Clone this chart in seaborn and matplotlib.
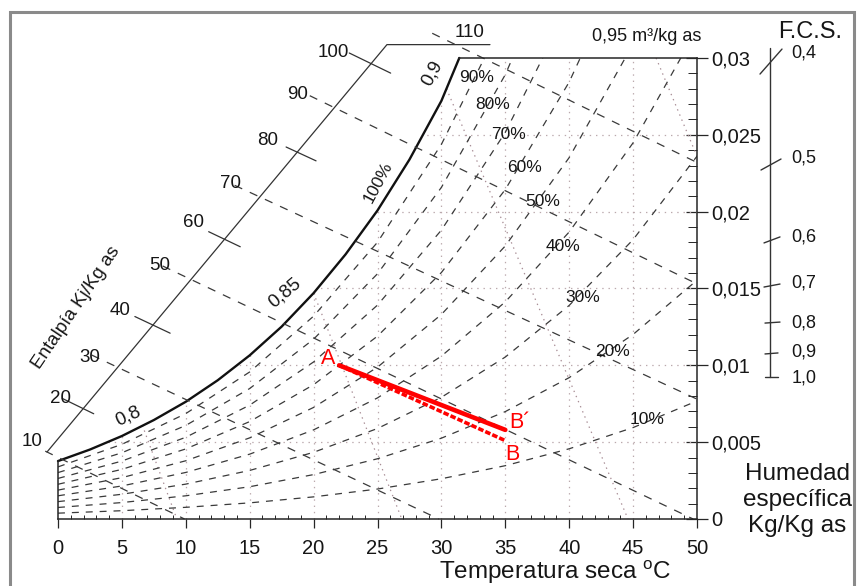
import matplotlib
matplotlib.use("Agg")
import matplotlib.pyplot as plt
from matplotlib.patches import Polygon, Rectangle
import numpy as np
import pandas as pd
import seaborn as sns

# dry bulb temperatures (ºC) of the humidity table
temps = [0, 5, 10, 15, 20, 25, 30, 35, 40, 45, 50]

# saturation curve (100 %), read every 2.5 ºC up to the top of the chart
sat_T = [0, 2.5, 5, 7.5, 10, 12.5, 15, 17.5, 20, 22.5, 25, 27.5, 30, 31.4]
sat_w = [0.00377, 0.00452, 0.00540, 0.00644, 0.00763, 0.00903, 0.01065,
         0.01252, 0.01470, 0.01722, 0.02008, 0.02339, 0.02721, 0.03000]

# relative humidity curves: humidity ratio (kg/kg as) at each of temps
rh_levels = [10, 20, 30, 40, 50, 60, 70, 80, 90]
rh_w = [
    [0.00038, 0.00054, 0.00076, 0.00105, 0.00144, 0.00195, 0.00262, 0.00347, 0.00457, 0.00595, 0.00768],
    [0.00075, 0.00107, 0.00151, 0.00210, 0.00289, 0.00392, 0.00526, 0.00699, 0.00920, 0.01201, 0.01554],
    [0.00113, 0.00161, 0.00227, 0.00316, 0.00434, 0.00589, 0.00792, 0.01054, 0.01390, 0.01818, 0.02361],
    [0.00151, 0.00215, 0.00303, 0.00422, 0.00580, 0.00788, 0.01060, 0.01413, 0.01868, 0.02448, 0.03188],
    [0.00188, 0.00269, 0.00379, 0.00528, 0.00726, 0.00988, 0.01331, 0.01777, 0.02352, 0.03091],
    [0.00226, 0.00323, 0.00456, 0.00634, 0.00874, 0.01190, 0.01604, 0.02144, 0.02844, 0.03746],
    [0.00264, 0.00377, 0.00532, 0.00741, 0.01022, 0.01392, 0.01880, 0.02516, 0.03344],
    [0.00302, 0.00431, 0.00609, 0.00849, 0.01170, 0.01596, 0.02158, 0.02892, 0.03851],
    [0.00339, 0.00486, 0.00686, 0.00957, 0.01320, 0.01801, 0.02438, 0.03273],
]
rh_text = ["10%", "20%", "30%", "40%", "50%", "60%", "70%", "80%", "90%"]

# enthalpy scale (kJ/kg as): where each value sits on the oblique scale
enth_values = [10, 20, 30, 40, 50, 60, 70, 80, 90, 100, 110]
enth_scale_T = [-0.86, 1.88, 4.62, 7.43, 10.17, 12.99, 15.81, 18.70, 21.67, 24.41, 30.83]
enth_scale_w = [0.00436, 0.00722, 0.00989, 0.01262, 0.01568, 0.01822, 0.02095,
                0.02388, 0.02675, 0.02967, 0.03098]
# the oblique scale line itself
enth_axis_T = [-0.86, 25.74, 33.8]
enth_axis_w = [0.00436, 0.03087, 0.03087]
# odd enthalpy lines cross the chart down to these points
enth_lines = [10, 30, 50, 70, 90, 110]
enth_end_T = [9.9, 29.8, 49.7, 50.0, 50.0, 50.0]
enth_end_w = [0.0, 0.0, 0.0, 0.0078, 0.0153, 0.0232]

# specific volume lines (m3/kg as)
vol_text = ["0,8", "0,85", "0,9", "0,95"]
vol_top_T = [6.6, 20.0, 30.4, 46.8]
vol_top_w = [0.0061, 0.0147, 0.0280, 0.0300]
vol_bot_T = [9.3, 26.9, 44.6, 50.0]
vol_bot_w = [0.0, 0.0, 0.0, 0.0236]

# dotted grid
grid_T = [5, 10, 15, 20, 25, 30, 35, 40, 45]
grid_w = [0.005, 0.01, 0.015, 0.02, 0.025]

# axes ticks
t_ticks = list(range(0, 51, 5))
w_ticks = [0, 0.005, 0.01, 0.015, 0.02, 0.025, 0.03]
w_labels = ["0", "0,005", "0,01", "0,015", "0,02", "0,025", "0,03"]

# sensible heat factor scale (F.C.S.)
fcs_labels = ["0,4", "0,5", "0,6", "0,7", "0,8", "0,9", "1,0"]
fcs_w = [0.02967, 0.02310, 0.01816, 0.01516, 0.01275, 0.01074, 0.00924]

# process A -> B´ (solid) and A -> B (dashed)
proc_T = [22.0, 35.0]
proc_w_b1 = [0.0100, 0.0058]
proc_w_b = [0.0100, 0.0051]

# ---------------------------------------------------------------- layout
W, H = 858, 586
X0, XS = 58, 12.78      # px of 0 ºC, px per ºC
Y0, YS = 519, 15367     # px of w=0, px per kg/kg

sns.set_theme(style="white")
plt.rcParams["font.family"] = ["Liberation Sans", "DejaVu Sans"]
plt.rcParams["mathtext.fontset"] = "custom"
plt.rcParams["mathtext.rm"] = "Liberation Sans"
plt.rcParams["lines.scale_dashes"] = False

fig = plt.figure(figsize=(W / 100, H / 100), dpi=100)
ax = fig.add_axes([0, 0, 1, 1])
ax.set_facecolor("white")
ax.set_xlim(-X0 / XS, (W - X0) / XS)
ax.set_ylim((Y0 - H) / YS, Y0 / YS)
ax.grid(False)

to_px = ax.transData.transform
to_data = ax.transData.inverted().transform


def pix(x, y):
    # screen pixel (y down) -> data
    return to_data((x, H - y))


ink = "#262626"
txt = "#161616"

# frame of the chart
for side in ["left", "right", "top", "bottom"]:
    ax.spines[side].set_visible(True)
    ax.spines[side].set_color(ink)
    ax.spines[side].set_linewidth(1.1)
ax.spines["bottom"].set_position(("data", 0))
ax.spines["bottom"].set_bounds(0, 50)
ax.spines["right"].set_position(("data", 50))
ax.spines["right"].set_bounds(0, 0.03)
ax.spines["top"].set_position(("data", 0.03))
ax.spines["top"].set_bounds(sat_T[-1], 50)
ax.spines["left"].set_position(("data", 0))
ax.spines["left"].set_bounds(0, sat_w[0])

ax.set_xticks(t_ticks)
ax.set_xticklabels([str(t) for t in t_ticks])
ax.set_xticks([t for t in range(0, 51) if t % 5], minor=True)
ax.yaxis.set_ticks_position("right")
ax.set_yticks(w_ticks)
ax.set_yticklabels(w_labels)
ax.set_yticks([i / 1000 for i in range(31) if i % 5], minor=True)
ax.tick_params(axis="x", which="major", direction="out", length=6.5, width=0.9,
               color=ink, labelsize=14.5, labelcolor=txt, pad=8, bottom=True, top=False)
ax.tick_params(axis="x", which="minor", direction="in", length=3, width=0.7,
               color=ink, bottom=True, top=False)
ax.tick_params(axis="y", which="major", direction="inout", length=16, width=0.9,
               color=ink, labelsize=14.5, labelcolor=txt, pad=2, right=True, left=False,
               labelright=True, labelleft=False)
ax.tick_params(axis="y", which="minor", direction="in", length=6.5, width=0.7,
               color=ink, right=True, left=False)

# region under the saturation curve
chart_clip = Polygon(list(zip(sat_T + [50, 50, 0], sat_w + [0.03, 0, 0])),
                     closed=True, transform=ax.transData)

# dotted dry bulb / humidity grid
vl = ax.vlines(grid_T, 0, 0.03, colors="#bba9ad", linewidth=0.9, linestyles=[(0, (1, 3.5))])
vl.set_clip_path(chart_clip)
hl = ax.hlines(grid_w, 0, 50, colors="#bba9ad", linewidth=0.9, linestyles=[(0, (1, 3.5))])
hl.set_clip_path(chart_clip)

# specific volume lines
for t0, w0, t1, w1 in zip(vol_top_T, vol_top_w, vol_bot_T, vol_bot_w):
    (ln,) = ax.plot([t0, t1], [w0, w1], color="#a88d95", lw=0.9, ls=(0, (1, 3)))
    ln.set_clip_path(chart_clip)

# relative humidity curves
rows = []
for rh, ws in zip(rh_levels, rh_w):
    for t, w in zip(temps, ws):
        rows.append({"T": t, "w": w, "rh": rh})
rh_df = pd.DataFrame(rows)
n0 = len(ax.lines)
sns.lineplot(data=rh_df, x="T", y="w", units="rh", estimator=None, sort=False,
             color="#3a3a3a", linewidth=0.9, linestyle=(0, (5, 5)), legend=False, ax=ax)
for ln in ax.lines[n0:]:
    ln.set_clip_path(chart_clip)

# saturation curve
sns.lineplot(x=sat_T, y=sat_w, sort=False, estimator=None, color="#111111",
             linewidth=1.7, ax=ax)

# enthalpy scale and lines
ax.plot(enth_axis_T, enth_axis_w, color="#333333", lw=0.9)
enth_back = [2, 22, 28, 20, 28, 17, 28, 12, 28, 23, 22]
enth_fwd = [0, 13, 0, 19, 0, 18, 0, 21, 0, 23, 0]
enth_lab = [(-15, -10), (-22, -10), (-27, -10), (-33, -15), (-28, -13), (-31, -17),
            (-30, -14), (-29, -12), (-37, -13), (-37, -11), (18, -10)]
dirs = {}
for h, t_end, w_end in zip(enth_lines, enth_end_T, enth_end_w):
    i = enth_values.index(h)
    p0 = to_px((enth_scale_T[i], enth_scale_w[i]))
    p1 = to_px((t_end, w_end))
    d = (p1 - p0) / np.hypot(*(p1 - p0))
    dirs[h] = d
    start = to_data(p0 - enth_back[i] * d)
    ax.plot([start[0], t_end], [start[1], w_end], color="#3a3a3a", lw=0.9, ls=(0, (6, 6)))
for i, h in enumerate(enth_values):
    p0 = to_px((enth_scale_T[i], enth_scale_w[i]))
    if h not in enth_lines:
        d = dirs[h - 10]
        seg = to_data(np.array([p0 - enth_back[i] * d, p0 + enth_fwd[i] * d]))
        ax.plot(seg[:, 0], seg[:, 1], color="#333333", lw=0.9)
    dx, dy = enth_lab[i]
    ax.annotate(str(h), (enth_scale_T[i], enth_scale_w[i]), xytext=(dx, -dy),
                textcoords="offset pixels", ha="center", va="center",
                fontsize=13.5, color=txt)

# labels of the humidity curves
rh_pos = [(647, 420), (612, 352), (583, 298), (563, 247), (543, 202),
          (525, 168), (508, 135), (493, 105), (477, 78)]
for s, (x, y) in zip(rh_text, rh_pos):
    ax.text(*pix(x, y), s, ha="center", va="center", fontsize=12.5, color=txt)
ax.text(*pix(378, 182), "100%", ha="center", va="center", fontsize=12.5,
        rotation=62, color=txt)

# labels of the volume lines
vol_pos = [(128, 416, 25), (285, 293, 40), (432, 73, 62)]
for s, (x, y, r) in zip(vol_text, vol_pos):
    ax.text(*pix(x, y), s, ha="center", va="center", fontsize=13.5, rotation=r, color=txt)
ax.text(*pix(647, 37), vol_text[-1] + " m³/kg as", ha="center", va="center",
        fontsize=13, color=txt)

# axis titles
ax.text(*pix(76, 308), "Entalpía Kj/Kg as", ha="center", va="center",
        fontsize=13.5, rotation=56, color=txt)
ax.text(*pix(797, 500), "Humedad\nespecífica\nKg/Kg as", ha="center", va="center",
        fontsize=17.5, linespacing=1.22, color=txt)
ax.text(*pix(555, 572), r"Temperatura seca $^{\mathrm{o}}$C", ha="center", va="center",
        fontsize=17.5, color=txt)

# F.C.S. scale
fcs_x = pix(770, 0)[0]
ax.plot([fcs_x, fcs_x], [pix(0, 48)[1], fcs_w[-1]], color="#333333", lw=1.0)
fcs_l = [(-10, 11), (-9, 6), (-6, 3), (-6, 1), (-5, 0), (-5, 0), (-5, 0)]
fcs_r = [(12, -14), (11, -5), (10, -3), (10, -2), (10, -1), (8, -1), (8, 0)]
fcs_dy = [-10, -6, -3, -3, 0, -2, 1]
for s, w, (lx, ly), (rx, ry), dy in zip(fcs_labels, fcs_w, fcs_l, fcs_r, fcs_dy):
    p = to_px((fcs_x, w))
    seg = to_data(np.array([p + (lx, -ly), p + (rx, -ry)]))
    ax.plot(seg[:, 0], seg[:, 1], color="#333333", lw=1.0)
    ax.annotate(s, (fcs_x, w), xytext=(34, -dy), textcoords="offset pixels",
                ha="center", va="center", fontsize=13, color=txt)
ax.text(*pix(810, 32), "F.C.S.", ha="center", va="center", fontsize=17, color=txt)

# process lines
sns.lineplot(x=proc_T, y=proc_w_b1, color="#ff0000", linewidth=3.3, ax=ax)
sns.lineplot(x=proc_T, y=proc_w_b, color="#ff0000", linewidth=2.6,
             linestyle=(0, (4, 1.5)), ax=ax)
ax.text(*pix(328, 358), "A", ha="center", va="center", fontsize=15.5, color="#ff0000")
ax.text(*pix(520, 422), "B´", ha="center", va="center", fontsize=15.5, color="#ff0000")
ax.text(*pix(512, 455), "B", ha="center", va="center", fontsize=15.5, color="#ff0000")

ax.set_xlabel("")
ax.set_ylabel("")

# grey border of the picture
fig.add_artist(Rectangle((10 / W, -0.01), (854 - 10) / W, 1 - 12 / H + 0.01,
                         transform=fig.transFigure, fill=False,
                         edgecolor="#8a8a8a", linewidth=2.2))

fig.savefig("out.png", dpi=100)
